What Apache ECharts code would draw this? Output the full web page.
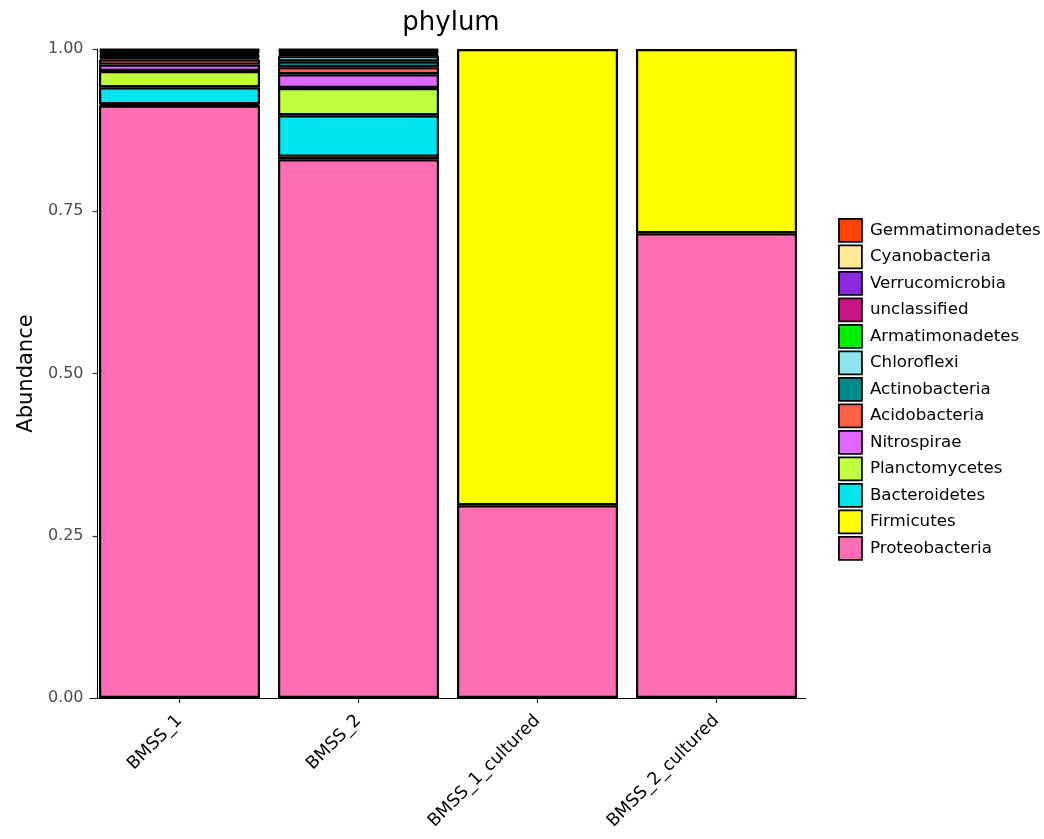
<!DOCTYPE html>
<html>
<head>
<meta charset="utf-8">
<script src="https://cdn.jsdelivr.net/npm/echarts@6/dist/echarts.min.js"></script>
<style>
html,body{margin:0;padding:0;background:#fff;}
#chart{width:1044px;height:839px;}
</style>
</head>
<body>
<div id="chart"></div>
<script>
// ---- data ----
const categories = ['BMSS_1', 'BMSS_2', 'BMSS_1_cultured', 'BMSS_2_cultured'];
const yTicks = [0, 0.25, 0.5, 0.75, 1.0];

// stacked from bottom to top
const Proteobacteria   = [0.913, 0.830, 0.297, 0.716];
const Firmicutes       = [0.002, 0.004, 0.703, 0.284];
const Bacteroidetes    = [0.026, 0.064, 0, 0];
const Planctomycetes   = [0.025, 0.042, 0, 0];
const Nitrospirae      = [0.010, 0.021, 0, 0];
const Acidobacteria    = [0.008, 0.011, 0, 0];
const Actinobacteria   = [0.003, 0.009, 0, 0];
const Chloroflexi      = [0.002, 0.008, 0, 0];
const Armatimonadetes  = [0.002, 0.002, 0, 0];
const unclassified     = [0.003, 0.003, 0, 0];
const Verrucomicrobia  = [0.002, 0.002, 0, 0];
const Cyanobacteria    = [0.002, 0.002, 0, 0];
const Gemmatimonadetes = [0.002, 0.002, 0, 0];

const phyla = [
  ['Proteobacteria', Proteobacteria, '#FF6EB4'],
  ['Firmicutes', Firmicutes, '#FFFF00'],
  ['Bacteroidetes', Bacteroidetes, '#00E5EE'],
  ['Planctomycetes', Planctomycetes, '#C0FF3E'],
  ['Nitrospirae', Nitrospirae, '#E066FF'],
  ['Acidobacteria', Acidobacteria, '#FF6347'],
  ['Actinobacteria', Actinobacteria, '#008B8B'],
  ['Chloroflexi', Chloroflexi, '#8EE5EE'],
  ['Armatimonadetes', Armatimonadetes, '#00EE00'],
  ['unclassified', unclassified, '#C71585'],
  ['Verrucomicrobia', Verrucomicrobia, '#8A2BE2'],
  ['Cyanobacteria', Cyanobacteria, '#FFE894'],
  ['Gemmatimonadetes', Gemmatimonadetes, '#FF4500']
];

const FONT = 'DejaVu Sans';

const series = phyla.map(([name, vals, color]) => ({
  name: name,
  type: 'bar',
  stack: 'total',
  barWidth: 161,
  data: vals.map(v => (v === 0 ? '-' : v)),
  itemStyle: { color: color, borderColor: '#000', borderWidth: 2.2 },
  emphasis: { disabled: true },
  animation: false
}));

const chart = echarts.init(document.getElementById('chart'), null, { renderer: 'canvas' });
chart.setOption({
  backgroundColor: '#ffffff',
  animation: false,
  title: {
    text: 'phylum',
    left: 446,
    top: 5,
    textAlign: 'center',
    textStyle: { fontFamily: FONT, fontSize: 26, fontWeight: 'normal', color: '#000' }
  },
  grid: {
    left: 90, top: 49, width: 716, height: 649,
    containLabel: false, outerBoundsMode: 'none'
  },
  legend: {
    orient: 'vertical',
    left: 838,
    top: 218,
    padding: 0,
    itemWidth: 23,
    itemHeight: 23,
    itemGap: 1.7,
    icon: 'rect',
    selectedMode: false,
    data: phyla.map(p => p[0]).slice().reverse(),
    itemStyle: { borderColor: '#000', borderWidth: 1.8 },
    textStyle: { fontFamily: FONT, fontSize: 16.7, lineHeight: 20, color: '#000', padding: [0, 0, 0, 3] }
  },
  xAxis: {
    type: 'category',
    data: categories,
    boundaryGap: true,
    axisLine: { show: true, lineStyle: { color: '#000', width: 1 } },
    axisTick: { show: true, alignWithLabel: true, length: 5, lineStyle: { color: '#333', width: 1.2 } },
    axisLabel: { interval: 0, rotate: 45, margin: 20, fontFamily: FONT, fontSize: 17.5, color: '#000' },
    splitLine: { show: false }
  },
  yAxis: {
    type: 'value',
    min: yTicks[0],
    max: yTicks[yTicks.length - 1],
    interval: 0.25,
    offset: -7.5,
    name: 'Abundance',
    nameLocation: 'middle',
    nameGap: 60,
    nameRotate: 90,
    nameTextStyle: { fontFamily: FONT, fontSize: 21, color: '#000' },
    axisLine: { show: true, lineStyle: { color: '#000', width: 1 } },
    axisTick: { show: true, length: 5, lineStyle: { color: '#333', width: 1.2 } },
    axisLabel: {
      margin: 14, fontFamily: FONT, fontSize: 16, color: '#4D4D4D',
      formatter: v => v.toFixed(2)
    },
    splitLine: { show: false }
  },
  series: series
});
</script>
</body>
</html>
